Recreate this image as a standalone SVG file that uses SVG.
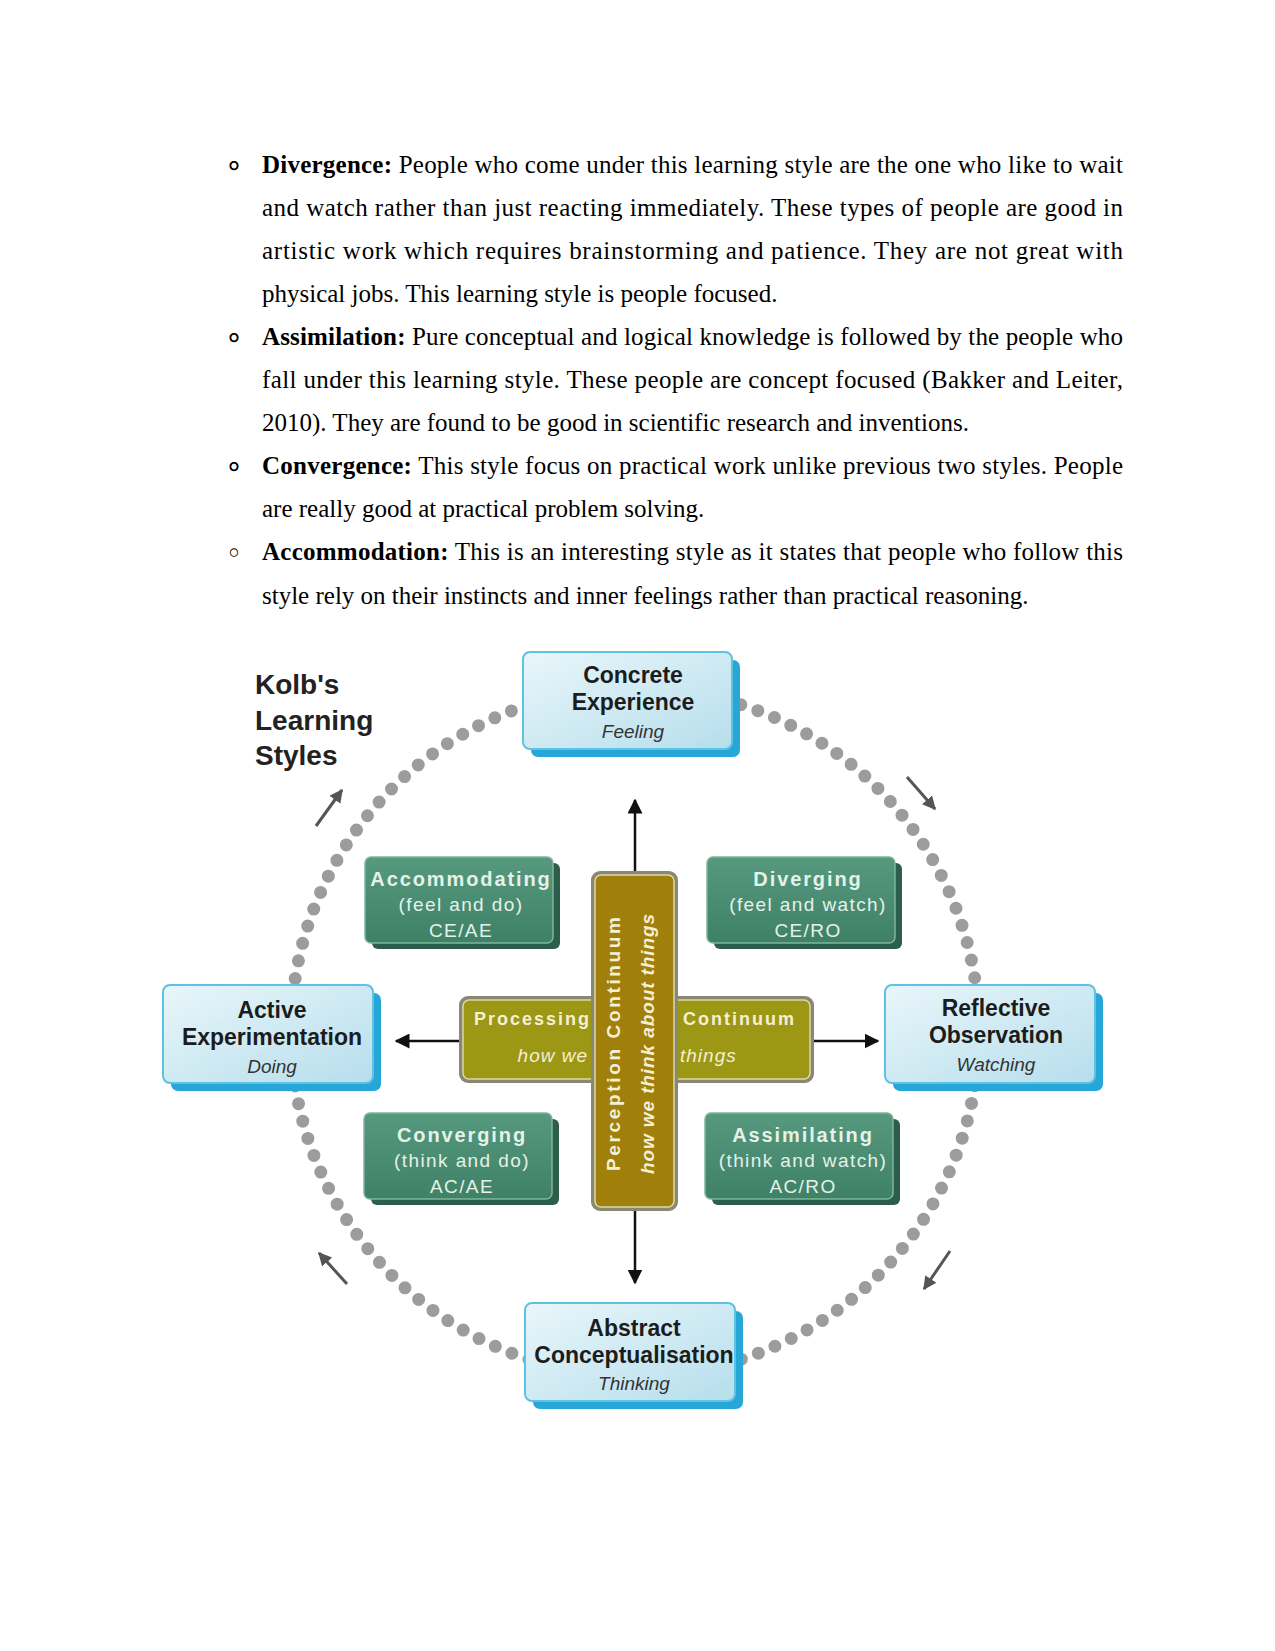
<svg xmlns="http://www.w3.org/2000/svg" width="1275" height="1651" viewBox="0 0 1275 1651">
<defs>
<style>
.body{font-family:"Liberation Serif","Times New Roman",serif;font-size:25px;fill:#000}
.bul{font-family:"DejaVu Sans",sans-serif;font-size:28px;fill:#000;stroke:#000;stroke-width:0.9;text-anchor:middle}
.bul2{font-family:"DejaVu Sans",sans-serif;font-size:28px;fill:#000;text-anchor:middle}
.title{font-family:"Liberation Sans",Arial,sans-serif;font-weight:bold;font-size:28px;fill:#222}
.bt{font-family:"Liberation Sans",Arial,sans-serif;font-weight:bold;font-size:23px;fill:#1c1c1c;text-anchor:middle}
.bs{font-family:"Liberation Sans",Arial,sans-serif;font-style:italic;font-size:19px;fill:#333;text-anchor:middle}
.gt{font-family:"Liberation Sans",Arial,sans-serif;font-weight:bold;font-size:20px;fill:#e4f2ea;text-anchor:middle;letter-spacing:1.9px}
.gs{font-family:"Liberation Sans",Arial,sans-serif;font-size:19px;fill:#e4f2ea;text-anchor:middle;letter-spacing:1.4px}
.ot{font-family:"Liberation Sans",Arial,sans-serif;font-weight:bold;font-size:18px;fill:#f4f0d4;letter-spacing:2px}
.os{font-family:"Liberation Sans",Arial,sans-serif;font-style:italic;font-size:19px;fill:#f4f0d4;letter-spacing:1px}
.vt{font-family:"Liberation Sans",Arial,sans-serif;font-weight:bold;font-size:19px;fill:#f4f0d4;text-anchor:middle}
.vs{font-family:"Liberation Sans",Arial,sans-serif;font-style:italic;font-weight:bold;font-size:19px;fill:#f4f0d4;text-anchor:middle}
.bface{fill:url(#gblue);stroke:#5ec2e2;stroke-width:2}
.bext{fill:#27a6d8}
.gface{fill:url(#ggreen);stroke:#7fb59c;stroke-width:1.5}
.gext{fill:#2d5e4b}
.blk{stroke:#111;stroke-width:2.5;fill:none}
.gry{stroke:#555;stroke-width:3;fill:none}
</style>
<linearGradient id="gblue" x1="0" y1="0" x2="1" y2="1">
<stop offset="0" stop-color="#e9f6fa"/>
<stop offset="1" stop-color="#b6deec"/>
</linearGradient>
<linearGradient id="ggreen" x1="0" y1="0" x2="0" y2="1">
<stop offset="0" stop-color="#56997e"/>
<stop offset="1" stop-color="#3f8166"/>
</linearGradient>
<marker id="ahb" viewBox="0 0 10 10" refX="9" refY="5" markerWidth="6" markerHeight="6" orient="auto" markerUnits="strokeWidth">
<path d="M0,0 L10,5 L0,10 z" fill="#111"/>
</marker>
<marker id="ahg" viewBox="0 0 10 10" refX="9" refY="5" markerWidth="4.5" markerHeight="4.5" orient="auto" markerUnits="strokeWidth">
<path d="M0,0 L10,5 L0,10 z" fill="#555"/>
</marker>
</defs>
<rect width="1275" height="1651" fill="#fff"/>

<g id="text-body">
<text class="bul" x="234" y="175.5">◦</text>
<text class="body" x="262" y="172.5" textLength="861" lengthAdjust="spacing"><tspan font-weight="bold">Divergence:</tspan> People who come under this learning style are the one who like to wait</text>
<text class="body" x="262" y="215.6" textLength="861" lengthAdjust="spacing">and watch rather than just reacting immediately. These types of people are good in</text>
<text class="body" x="262" y="258.7" textLength="861" lengthAdjust="spacing">artistic work which requires brainstorming and patience. They are not great with</text>
<text class="body" x="262" y="301.8">physical jobs. This learning style is people focused.</text>
<text class="bul" x="234" y="347.9">◦</text>
<text class="body" x="262" y="344.9" textLength="861" lengthAdjust="spacing"><tspan font-weight="bold">Assimilation:</tspan> Pure conceptual and logical knowledge is followed by the people who</text>
<text class="body" x="262" y="388" textLength="861" lengthAdjust="spacing">fall under this learning style. These people are concept focused (Bakker and Leiter,</text>
<text class="body" x="262" y="431.1">2010). They are found to be good in scientific research and inventions.</text>
<text class="bul" x="234" y="477.2">◦</text>
<text class="body" x="262" y="474.2" textLength="861" lengthAdjust="spacing"><tspan font-weight="bold">Convergence:</tspan> This style focus on practical work unlike previous two styles. People</text>
<text class="body" x="262" y="517.3">are really good at practical problem solving.</text>
<text class="bul2" x="234" y="563.4">◦</text>
<text class="body" x="262" y="560.4" textLength="861" lengthAdjust="spacing"><tspan font-weight="bold">Accommodation:</tspan> This is an interesting style as it states that people who follow this</text>
<text class="body" x="262" y="603.5">style rely on their instincts and inner feelings rather than practical reasoning.</text>
</g>

<g id="title">
<text class="title" x="255" y="694">Kolb's</text>
<text class="title" x="255" y="730">Learning</text>
<text class="title" x="255" y="765">Styles</text>
</g>

<g id="connectors">
<circle cx="635" cy="1032" r="344" fill="none" stroke="#9c9c9c" stroke-width="13" stroke-dasharray="0 18" stroke-linecap="round"/>
<line class="blk" x1="635" y1="873" x2="635" y2="800" marker-end="url(#ahb)"/>
<line class="blk" x1="635" y1="1209" x2="635" y2="1283" marker-end="url(#ahb)"/>
<line class="blk" x1="461" y1="1041" x2="396" y2="1041" marker-end="url(#ahb)"/>
<line class="blk" x1="812" y1="1041" x2="878" y2="1041" marker-end="url(#ahb)"/>
<line class="gry" x1="316" y1="826" x2="342" y2="790" marker-end="url(#ahg)"/>
<line class="gry" x1="907" y1="777" x2="935" y2="809" marker-end="url(#ahg)"/>
<line class="gry" x1="950" y1="1251" x2="924" y2="1289" marker-end="url(#ahg)"/>
<line class="gry" x1="347" y1="1284" x2="319" y2="1253" marker-end="url(#ahg)"/>
</g>

<g id="concrete-experience">
<rect class="bext" x="531" y="660" width="209" height="97" rx="7"/>
<rect class="bface" x="523" y="652" width="209" height="97" rx="7"/>
<text class="bt" x="633" y="683">Concrete</text>
<text class="bt" x="633" y="710">Experience</text>
<text class="bs" x="633" y="738">Feeling</text>
</g>

<g id="active-experimentation">
<rect class="bext" x="171" y="993" width="210" height="98" rx="7"/>
<rect class="bface" x="163" y="985" width="210" height="98" rx="7"/>
<text class="bt" x="272" y="1018">Active</text>
<text class="bt" x="272" y="1045">Experimentation</text>
<text class="bs" x="272" y="1073">Doing</text>
</g>

<g id="reflective-observation">
<rect class="bext" x="893" y="993" width="210" height="98" rx="7"/>
<rect class="bface" x="885" y="985" width="210" height="98" rx="7"/>
<text class="bt" x="996" y="1016">Reflective</text>
<text class="bt" x="996" y="1043">Observation</text>
<text class="bs" x="996" y="1071">Watching</text>
</g>

<g id="abstract-conceptualisation">
<rect class="bext" x="533" y="1311" width="210" height="98" rx="7"/>
<rect class="bface" x="525" y="1303" width="210" height="98" rx="7"/>
<text class="bt" x="634" y="1336">Abstract</text>
<text class="bt" x="634" y="1363">Conceptualisation</text>
<text class="bs" x="634" y="1390">Thinking</text>
</g>

<g id="accommodating">
<rect class="gext" x="372" y="863" width="188" height="86" rx="6"/>
<rect class="gface" x="365" y="857" width="188" height="86" rx="6"/>
<text class="gt" x="461" y="886">Accommodating</text>
<text class="gs" x="461" y="911">(feel and do)</text>
<text class="gs" x="461" y="937">CE/AE</text>
</g>

<g id="diverging">
<rect class="gext" x="714" y="863" width="188" height="86" rx="6"/>
<rect class="gface" x="707" y="857" width="188" height="86" rx="6"/>
<text class="gt" x="808" y="886">Diverging</text>
<text class="gs" x="808" y="911">(feel and watch)</text>
<text class="gs" x="808" y="937">CE/RO</text>
</g>

<g id="converging">
<rect class="gext" x="371" y="1119" width="188" height="86" rx="6"/>
<rect class="gface" x="364" y="1113" width="188" height="86" rx="6"/>
<text class="gt" x="462" y="1142">Converging</text>
<text class="gs" x="462" y="1167">(think and do)</text>
<text class="gs" x="462" y="1193">AC/AE</text>
</g>

<g id="assimilating">
<rect class="gext" x="712" y="1119" width="188" height="86" rx="6"/>
<rect class="gface" x="705" y="1113" width="188" height="86" rx="6"/>
<text class="gt" x="803" y="1142">Assimilating</text>
<text class="gs" x="803" y="1167">(think and watch)</text>
<text class="gs" x="803" y="1193">AC/RO</text>
</g>

<g id="processing-continuum">
<rect x="461" y="998" width="351" height="83" rx="7" fill="#9d9716" stroke="#8a8870" stroke-width="4"/>
<rect x="463" y="1000" width="347" height="79" rx="6" fill="none" stroke="#dcd8b0" stroke-width="1.5"/>
<text class="ot" x="474" y="1025">Processing</text>
<text class="ot" x="683" y="1025">Continuum</text>
<text class="os" x="588" y="1062" text-anchor="end">how we</text>
<text class="os" x="680" y="1062">things</text>
</g>

<g id="perception-continuum">
<rect x="593" y="873" width="83" height="336" rx="7" fill="#a07f0b" stroke="#8a8870" stroke-width="4"/>
<rect x="595" y="875" width="79" height="332" rx="6" fill="none" stroke="#dcd8b0" stroke-width="1.5"/>
<text class="vt" transform="translate(613,1044) rotate(-90)" dy="0.36em" textLength="254" lengthAdjust="spacing">Perception Continuum</text>
<text class="vs" transform="translate(647,1044) rotate(-90)" dy="0.36em" textLength="260" lengthAdjust="spacing">how we think about things</text>
</g>
</svg>
